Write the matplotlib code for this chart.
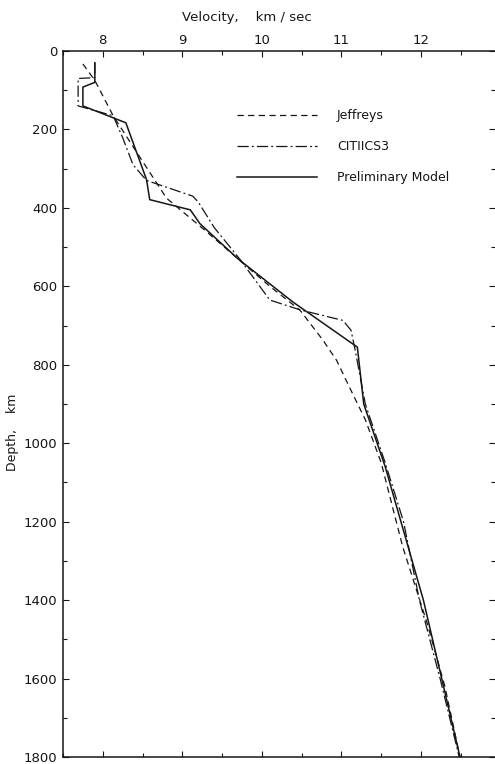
import matplotlib
matplotlib.use("Agg")
import matplotlib.pyplot as plt
from matplotlib.ticker import MultipleLocator, FixedLocator

# Velocity–depth profiles (km/s vs km)
jeffreys_depth = [33, 75, 165, 250, 375, 460, 530, 600, 661, 738, 789, 857, 940, 1050, 1264, 1461, 1620, 1800]
jeffreys_vel = [7.75, 7.9, 8.13, 8.4, 8.8, 9.3, 9.7, 10.1, 10.48, 10.77, 10.94, 11.1, 11.3, 11.5, 11.77, 12.08, 12.3, 12.49]

cit_depth = [30, 68, 70, 140, 165, 221, 290, 330, 370, 385, 450, 530, 635, 660, 687, 712, 760, 900, 1050, 1200, 1400, 1600, 1800]
cit_vel = [7.9, 7.9, 7.69, 7.69, 8.13, 8.25, 8.38, 8.55, 9.13, 9.2, 9.4, 9.72, 10.1, 10.48, 11.02, 11.12, 11.17, 11.3, 11.55, 11.78, 11.98, 12.24, 12.48]

prelim_depth = [30, 80, 92, 140, 183, 328, 379, 405, 440, 530, 640, 755, 900, 1060, 1400, 1800]
prelim_vel = [7.9, 7.9, 7.75, 7.75, 8.29, 8.55, 8.59, 9.1, 9.22, 9.7, 10.39, 11.2, 11.28, 11.55, 12.03, 12.49]

series_labels = ["Jeffreys", "CITIICS3", "Preliminary Model"]
x_ticks = [8, 9, 10, 11, 12]
y_ticks = [0, 200, 400, 600, 800, 1000, 1200, 1400, 1600, 1800]

plt.rcParams["font.family"] = ["DejaVu Sans"]
ink = "#151515"

fig = plt.figure(figsize=(4.95, 7.64), dpi=100)
ax_bottom_px = 757
ax_top_px = 51
ax = fig.add_axes([63 / 495, 1 - ax_bottom_px / 764, 432 / 495,
                   (ax_bottom_px - ax_top_px) / 764])

l1, = ax.plot(jeffreys_vel, jeffreys_depth, color=ink, lw=0.9, dashes=(5, 3.5))
l2, = ax.plot(cit_vel, cit_depth, color=ink, lw=0.9, dashes=(9, 2.5, 1.5, 2.5))
l3, = ax.plot(prelim_vel, prelim_depth, color=ink, lw=1.1)

ax.set_xlim(7.5, 12.93)
ax.set_ylim(1800, 0)

ax.xaxis.tick_top()
ax.xaxis.set_major_locator(FixedLocator(x_ticks))
ax.xaxis.set_minor_locator(MultipleLocator(0.5))
ax.yaxis.set_major_locator(FixedLocator(y_ticks))
ax.yaxis.set_minor_locator(MultipleLocator(100))
ax.set_yticklabels([str(v) for v in y_ticks])

ax.tick_params(axis="x", which="both", direction="in", top=True, bottom=True,
               labeltop=True, labelbottom=False, colors=ink, labelsize=9.5, pad=3)
ax.tick_params(axis="y", which="both", direction="in", left=True, right=True,
               labelleft=True, labelright=False, colors=ink, labelsize=9.5, pad=4)
ax.tick_params(which="major", length=4, width=0.8)
ax.tick_params(which="minor", length=3, width=0.8)

for side in ["top", "left", "bottom"]:
    ax.spines[side].set_linewidth(1.1)
    ax.spines[side].set_color(ink)
ax.spines["right"].set_visible(False)

fig.text(247 / 495, 1 - 18 / 764, "Velocity,    km / sec", ha="center", va="center",
         fontsize=9.5, color=ink)
ax.set_ylabel("Depth,    km", fontsize=9, color=ink)
h = ax_bottom_px - ax_top_px
ax.yaxis.set_label_coords((19 - 63) / 432, (ax_bottom_px - 432) / h)

ax.legend([l1, l2, l3], series_labels, loc="upper left",
          bbox_to_anchor=((237 - 63) / 432, (ax_bottom_px - 109) / h),
          frameon=False, handlelength=6.4, handletextpad=1.6, labelspacing=1.45,
          borderpad=0, borderaxespad=0, fontsize=9, labelcolor=ink)

fig.savefig("out.png", dpi=100)
